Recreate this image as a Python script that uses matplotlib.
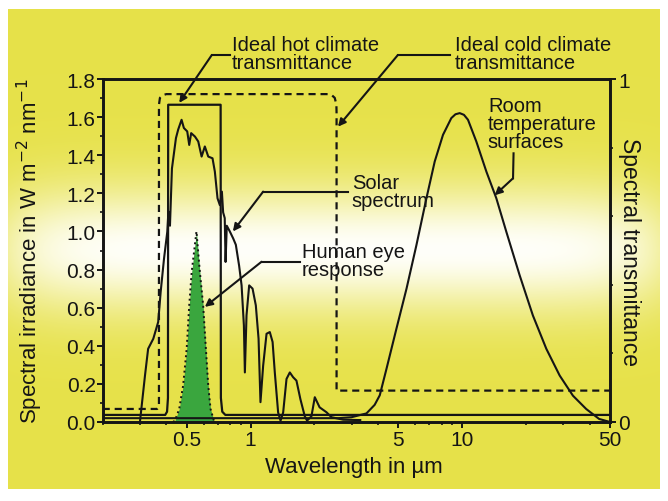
import numpy as np
import matplotlib.pyplot as plt
from matplotlib.ticker import LogLocator, NullFormatter, MultipleLocator

plt.rcParams['font.family'] = ['Liberation Sans', 'DejaVu Sans']

# solar spectrum, W m-2 nm-1
solar_wl = [0.30, 0.317, 0.328, 0.347, 0.366, 0.376, 0.390, 0.404, 0.409, 0.416,
            0.425, 0.444, 0.455, 0.472, 0.484, 0.502, 0.513, 0.524, 0.546, 0.566,
            0.587, 0.608, 0.631, 0.661, 0.678, 0.698, 0.716, 0.732, 0.742, 0.755,
            0.762, 0.772, 0.798, 0.828, 0.852, 0.883, 0.907, 0.930, 0.940, 0.957,
            0.985, 1.022, 1.059, 1.091, 1.114, 1.147, 1.19, 1.233, 1.271, 1.302,
            1.35, 1.386, 1.426, 1.479, 1.533, 1.589, 1.648, 1.72, 1.804, 1.85,
            1.94, 2.012, 2.12, 2.285, 2.413, 2.74, 3.3]
solar_val = [0.0, 0.244, 0.384, 0.437, 0.525, 0.683, 0.858, 0.998, 1.105, 1.03,
             1.33, 1.49, 1.535, 1.586, 1.543, 1.525, 1.454, 1.516, 1.498, 1.472,
             1.393, 1.446, 1.393, 1.384, 1.314, 1.174, 1.138, 1.209, 1.10, 1.07,
             0.84, 1.03, 1.0, 0.963, 0.93, 0.82, 0.717, 0.507, 0.26, 0.56,
             0.717, 0.70, 0.612, 0.437, 0.104, 0.296, 0.463, 0.472, 0.42, 0.26,
             0.05, 0.007, 0.05, 0.226, 0.26, 0.235, 0.217, 0.12, 0.03, 0.007,
             0.03, 0.13, 0.077, 0.051, 0.025, 0.012, 0.01]

# human eye response
eye_wl = [0.43, 0.439, 0.460, 0.480, 0.499, 0.513, 0.527, 0.555, 0.576, 0.597,
          0.615, 0.631, 0.647, 0.671, 0.68]
eye_val = [0.0, 0.007, 0.068, 0.191, 0.384, 0.612, 0.788, 1.0, 0.788, 0.612,
           0.384, 0.191, 0.068, 0.007, 0.0]

# room temperature surfaces
room_wl = [0.2, 2.6, 3.0, 3.53, 3.86, 4.08, 4.39, 4.89, 5.46, 6.08, 6.78, 7.42,
           8.12, 8.89, 9.3, 9.74, 10.2, 10.66, 11.67, 13.02, 14.51, 16.18, 18.7,
           21.6, 25.0, 28.9, 33.4, 38.6, 44.4, 50]
room_val = [0.02, 0.02, 0.025, 0.045, 0.09, 0.14, 0.279, 0.489, 0.70, 0.928,
            1.174, 1.367, 1.507, 1.595, 1.615, 1.621, 1.612, 1.586, 1.472, 1.314,
            1.174, 0.998, 0.77, 0.559, 0.384, 0.244, 0.138, 0.068, 0.016, 0.0]

# ideal transmittances (right axis)
hot_wl = [0.2, 0.395, 0.403, 0.407, 0.408, 0.722, 0.724, 0.735, 0.76, 51]
hot_tr = [0.0206, 0.0206, 0.03, 0.07, 0.925, 0.925, 0.07, 0.03, 0.0206, 0.0206]

cold_wl = [0.2, 0.362, 0.367, 0.369, 0.369, 0.373, 0.385, 0.40, 2.32, 2.42,
           2.50, 2.545, 2.55, 2.55, 51]
cold_tr = [0.038, 0.038, 0.042, 0.05, 0.925, 0.945, 0.953, 0.956, 0.956, 0.953,
           0.945, 0.925, 0.90, 0.0915, 0.0915]

x_ticks = [0.5, 1, 5, 10, 50]
x_labels = ['0.5', '1', '5', '10', '50']
y_ticks = [0.0, 0.2, 0.4, 0.6, 0.8, 1.0, 1.2, 1.4, 1.6, 1.8]

ink = '#151515'

fig = plt.figure(figsize=(6.68, 5.02), dpi=100)

# yellow / white gradient background
bg = fig.add_axes([0, 0, 1, 1], zorder=0)
bg.set_xlim(0, 668)
bg.set_ylim(502, 0)
bg.axis('off')
yy, xx = np.mgrid[10:490, 8:660]
w = np.exp(-((yy - 250) / 62.0) ** 2) * (1 - 0.5 * ((xx - 334) / 326.0) ** 8)
yellow = np.array([0.905, 0.885, 0.29])
white = np.array([1.0, 1.0, 0.98])
img = yellow * (1 - w[..., None]) + white * w[..., None]
bg.imshow(img, extent=(8, 660, 490, 10), aspect='auto', interpolation='bilinear')

ax = fig.add_axes([0.1537, 0.1574, 0.7595, 0.6832], zorder=1)
ax.set_facecolor('none')
ax.set_xscale('log')
ax.set_xlim(0.2, 50)
ax.set_ylim(0, 1.8)

ax.fill_between(eye_wl, eye_val, color='#3aa63e', lw=0, zorder=2)
ax.plot(eye_wl, eye_val, color=ink, ls=':', lw=1.4, zorder=3)
ax.plot(solar_wl, solar_val, color=ink, lw=1.5, zorder=3)
ax.plot(room_wl, room_val, color=ink, lw=1.5, zorder=3)

ax2 = ax.twinx()
ax2.set_ylim(0, 1)
ax2.plot(hot_wl, hot_tr, color=ink, lw=1.6)
ax2.plot(cold_wl, cold_tr, color=ink, lw=1.6, ls=(0, (3.2, 2.2)))

ax.set_xticks(x_ticks, x_labels)
ax.xaxis.set_minor_locator(LogLocator(base=10, subs=np.arange(2, 10)))
ax.xaxis.set_minor_formatter(NullFormatter())
ax.set_yticks(y_ticks, [f'{v:.1f}' for v in y_ticks])
ax.yaxis.set_minor_locator(MultipleLocator(0.1))
ax2.set_yticks([0, 1], ['0', '1'])
ax2.yaxis.set_minor_locator(MultipleLocator(0.2))

for a in (ax, ax2):
    for s in a.spines.values():
        s.set_linewidth(1.9)
        s.set_color(ink)
ax.tick_params(axis='both', which='major', direction='out', length=4, width=1.4,
               labelsize=15, colors=ink, pad=1)
ax.tick_params(axis='both', which='minor', direction='out', length=2, width=1.2, colors=ink)
ax.tick_params(axis='x', which='major', pad=2)
ax2.tick_params(axis='y', which='major', direction='out', length=4, width=1.4,
                labelsize=15, colors=ink, pad=2)
ax2.tick_params(axis='y', which='minor', direction='out', length=2, width=1.2, colors=ink)

fig.text(30 / 668, 1 - 251 / 502, 'Spectral irradiance in W m$^{-2}$ nm$^{-1}$',
         rotation=90, ha='center', va='center', fontsize=16, color=ink)
fig.text(630 / 668, 1 - 252 / 502, 'Spectral transmittance', rotation=270,
         ha='center', va='center', fontsize=16.5, color=ink)
fig.text(354 / 668, 1 - 468 / 502, 'Wavelength in \u00b5m', ha='center', va='center',
         fontsize=16, color=ink)

# annotations: (text pos, elbow, arrow start, arrow tip)
notes = [
    ('Ideal hot climate\ntransmittance', (0.813, 1.932), (0.798, 1.925), (0.655, 1.925), (0.46, 1.675)),
    ('Ideal cold climate\ntransmittance', (9.22, 1.932), (8.73, 1.925), (4.96, 1.925), (2.59, 1.55)),
    ('Solar\nspectrum', (3.01, 1.21), (2.89, 1.209), (1.147, 1.209), (0.825, 1.0)),
    ('Human eye\nresponse', (1.747, 0.849), (1.71, 0.841), (1.127, 0.841), (0.608, 0.604)),
    ('Room\ntemperature\nsurfaces', (13.24, 1.568), (17.5, 1.41), (17.4, 1.279), (14.25, 1.19)),
]
arrow = dict(arrowstyle='-|>', lw=1.5, color=ink, mutation_scale=11, shrinkA=0, shrinkB=0)
for text, tpos, elbow, start, tip in notes:
    ax.text(tpos[0], tpos[1], text, ha='left', va='center', fontsize=14.5,
            linespacing=0.92, color=ink, clip_on=False, zorder=5)
    ax.plot([elbow[0], start[0]], [elbow[1], start[1]], color=ink, lw=1.5,
            clip_on=False, zorder=5)
    ax.annotate('', xy=tip, xytext=start, arrowprops=arrow, annotation_clip=False, zorder=5)

fig.savefig('out.png', dpi=100)
